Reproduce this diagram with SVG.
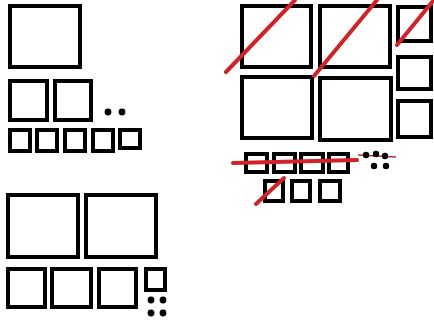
<svg xmlns="http://www.w3.org/2000/svg" width="434" height="322" viewBox="0 0 434 322">
<style>
.b{fill:none;stroke:#000;stroke-width:4}
.d{fill:#000}
.r{stroke:#d42128;stroke-width:4;stroke-linecap:round;fill:none}
.t{stroke:#b0303a;stroke-width:1.3;fill:none}
</style>
<rect width="434" height="322" fill="#fff"/>
<g id="group-a">
<rect class="b" x="10" y="6" width="70" height="61"/>
<rect class="b" x="10" y="81" width="37" height="39"/>
<rect class="b" x="55" y="81" width="36" height="39"/>
<circle class="d" cx="108" cy="112" r="3.4"/>
<circle class="d" cx="122" cy="112" r="3.4"/>
<rect class="b" x="10" y="130" width="20" height="21"/>
<rect class="b" x="37" y="130" width="20" height="21"/>
<rect class="b" x="65" y="130" width="20" height="21"/>
<rect class="b" x="93" y="130" width="20" height="21"/>
<rect class="b" x="120" y="130" width="20" height="18"/>
</g>
<g id="group-b">
<rect class="b" x="8" y="195" width="70" height="62"/>
<rect class="b" x="86" y="195" width="70" height="62"/>
<rect class="b" x="8" y="269" width="37" height="38"/>
<rect class="b" x="52" y="269" width="39" height="38"/>
<rect class="b" x="99" y="269" width="37" height="38"/>
<rect class="b" x="146" y="269" width="19" height="21"/>
<circle class="d" cx="151" cy="300" r="3.4"/>
<circle class="d" cx="163" cy="300" r="3.4"/>
<circle class="d" cx="151" cy="313" r="3.4"/>
<circle class="d" cx="163" cy="313" r="3.4"/>
</g>
<g id="group-c">
<rect class="b" x="242" y="6" width="69" height="61"/>
<rect class="b" x="320" y="6" width="70" height="61"/>
<rect class="b" x="398" y="7" width="33" height="34"/>
<rect class="b" x="398" y="57" width="33" height="32"/>
<rect class="b" x="398" y="101" width="33" height="36"/>
<rect class="b" x="242" y="77" width="70" height="61"/>
<rect class="b" x="320" y="78" width="71" height="62"/>
<rect class="b" x="246" y="154" width="21" height="18"/>
<rect class="b" x="274" y="154" width="21" height="18"/>
<rect class="b" x="301" y="154" width="22" height="18"/>
<rect class="b" x="329" y="154" width="19" height="18"/>
<rect class="b" x="265" y="181" width="18" height="20"/>
<rect class="b" x="292" y="181" width="18" height="20"/>
<rect class="b" x="320" y="181" width="20" height="20"/>
</g>
<g id="connectors">
<line class="r" x1="226" y1="72" x2="295" y2="0"/>
<line class="r" x1="314" y1="76" x2="377" y2="0"/>
<line class="r" x1="397" y1="45" x2="433" y2="1"/>
<line class="r" x1="233" y1="163" x2="357" y2="160"/>
<line class="r" x1="256" y1="204" x2="284" y2="178"/>
<line class="t" x1="358" y1="155" x2="396" y2="157"/>
<circle class="d" cx="366" cy="155" r="3.2"/>
<circle class="d" cx="376" cy="154" r="3.2"/>
<circle class="d" cx="385" cy="156" r="3.2"/>
<circle class="d" cx="374" cy="166" r="3.2"/>
<circle class="d" cx="386" cy="166" r="3.2"/>
</g>
</svg>
